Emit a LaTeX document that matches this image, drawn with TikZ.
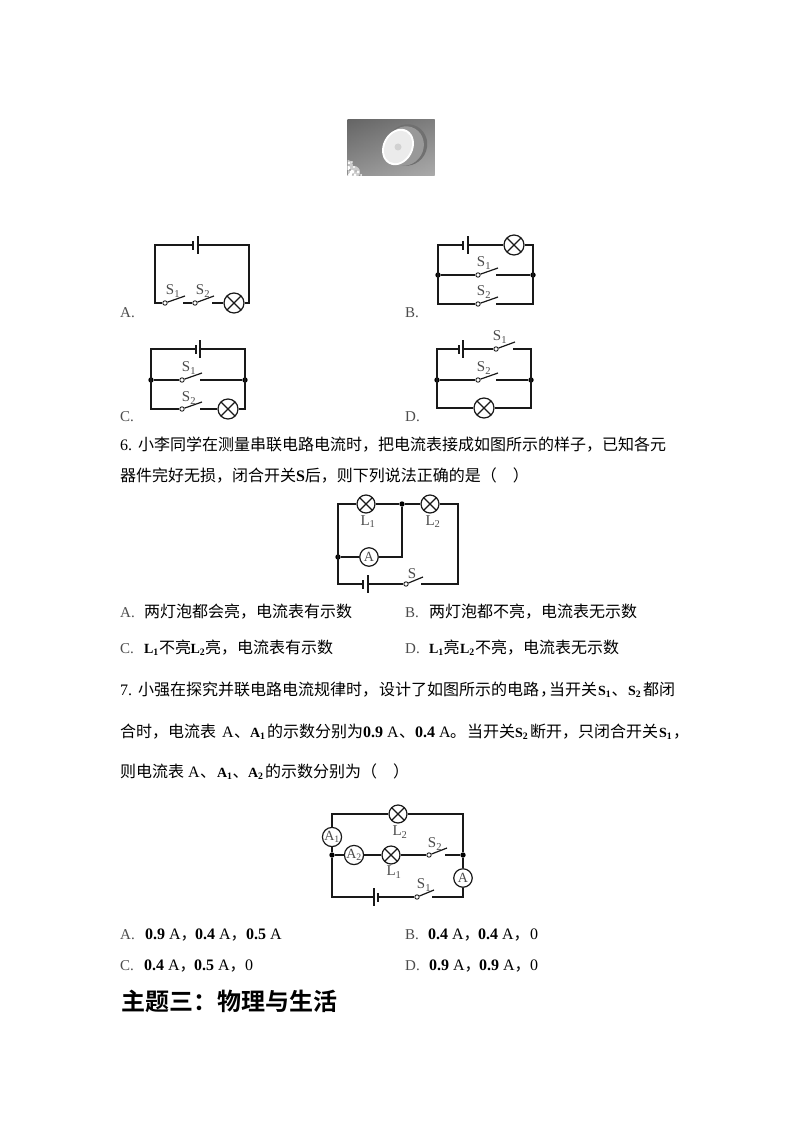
\documentclass[tikz,border=0pt]{standalone}
\usepackage{fontspec}
\setmainfont{Liberation Serif}
\newfontfamily\zhf[BoldFont=Noto Sans CJK SC Bold]{Noto Sans CJK SC}
\newcommand\zh[1]{{\zhf #1}}
\newcommand\bl[2]{{\fontsize{14pt}{16pt}\selectfont\textbf{#1\textsubscript{#2}}}}
\newcounter{tn}
\definecolor{wirec}{gray}{0.1}
\definecolor{labc}{gray}{0.3}
\tikzset{
  wire/.style={line width=1.2pt,draw=wirec,line join=miter},
  txt/.style={anchor=base west,inner sep=0pt,outer sep=0pt,font=\fontsize{16pt}{18pt}\selectfont,text=black},
  optl/.style={anchor=base west,inner sep=0pt,font=\fontsize{15pt}{16pt}\selectfont,text=labc},
  clab/.style={inner sep=0pt,font=\fontsize{15pt}{16pt}\selectfont,text=labc},
  lampn/.style={circle,draw=wirec,line width=1.2pt,minimum size=#1,inner sep=0pt,fill=white,
    path picture={\draw[line width=1.2pt,draw=wirec] (path picture bounding box.north west)--(path picture bounding box.south east)
      (path picture bounding box.north east)--(path picture bounding box.south west);}},
  metern/.style={circle,draw=wirec,line width=1.2pt,minimum size=18.5pt,inner sep=0pt,fill=white,font=\fontsize{14pt}{15pt}\selectfont,text=labc},
  dotn/.style={circle,fill=black,minimum size=5.4pt,inner sep=0pt},
  pivotn/.style={circle,draw=wirec,line width=0.9pt,minimum size=4.4pt,inner sep=0pt,fill=white},
  platen/.style={draw=none,fill=wirec,minimum width=1.3pt,inner sep=0pt,minimum height=#1}
}
\newcommand\tx[3]{\stepcounter{tn}\node[txt] (t\arabic{tn}) at (#1,#2) {#3};}
\newcommand\opt[3]{\stepcounter{tn}\node[optl] (t\arabic{tn}) at (#1,#2) {#3};}
\newcommand\lab[3]{\stepcounter{tn}\node[clab] (t\arabic{tn}) at (#1,#2) {#3};}
\newcommand\batt[4]{\node[platen=9pt] (#1-s) at (#2,#4) {};\node[platen=18pt] (#1-l) at (#3,#4) {};}
\newcommand\swt[4]{\node[pivotn] (#1-p) at (#2,#3) {};\coordinate (#1-a) at (#4,#3-7);\coordinate (#1-r) at (#4-2,#3);
  \draw[wire] (#1-p) -- (#1-a);}
\begin{document}
\begin{tikzpicture}[x=1pt,y=-1pt]
\useasboundingbox (0,0) rectangle (794,1123);
\fill[white] (0,0) rectangle (794,1123);

% photo
\begin{scope}
\clip (347.5,119.5) rectangle (434.5,176);
\shade[top color=black!66,bottom color=black!30] (347,119) rectangle (435,177);
\shade[left color=black!55,right color=black!35,opacity=.5] (347,119) rectangle (435,177);
\fill[black!56,rotate around={-30:(407,145)}] (407,145) ellipse (20 and 21);
\fill[black!40,rotate around={-30:(405,146)}] (405,146) ellipse (18.5 and 20);
\fill[white,rotate around={-28:(398,147)}] (398,147) ellipse (15 and 19);
\fill[black!8,rotate around={-28:(398,147)}] (398,147) ellipse (13 and 17);
\fill[black!18] (398,147) circle (3.5);
\fill[black!20] (348,165) circle (5) (354,172) circle (6);
\fill[white] (348,168) circle (2.2) (352,172) circle (2.2) (350,175) circle (2) (355,175) circle (1.6) (349,163) circle (1.3) (354,167) circle (1.2) (358,172) circle (1.3) (361,175) circle (1) (352,162) circle (.9);
\fill[black!50] (350,170) circle (.8) (353,174) circle (.7) (349,165) circle (.6) (356,171) circle (.7);
\end{scope}

% circuit A
\coordinate (a-tl) at (155,245); \coordinate (a-tr) at (249,245); \coordinate (a-bl) at (155,303); \coordinate (a-br) at (249,303);
\batt{a-bat}{193}{198}{245}
\swt{a-s1}{165}{303}{185}
\swt{a-s2}{195}{303}{214}
\node[lampn=20pt] (a-lamp) at (234,303) {};
\draw[wire] (a-bat-s) -- (a-tl) -- (a-bl) -- (a-s1-p);
\draw[wire] (a-s1-r) -- (a-s2-p);
\draw[wire] (a-s2-r) -- (a-lamp);
\draw[wire] (a-lamp) -- (a-br) -- (a-tr) -- (a-bat-l);
\lab{173}{291}{S\textsubscript{1}}
\lab{203}{291}{S\textsubscript{2}}
\opt{120}{317}{A.}

% circuit B
\coordinate (b-tl) at (438,245); \coordinate (b-tr) at (533,245); \coordinate (b-bl) at (438,304); \coordinate (b-br) at (533,304);
\node[dotn] (b-d1) at (438,275) {}; \node[dotn] (b-d2) at (533,275) {};
\batt{b-bat}{463}{468}{245}
\node[lampn=20pt] (b-lamp) at (514,245) {};
\swt{b-s1}{478}{275}{498}
\swt{b-s2}{478}{304}{498}
\draw[wire] (b-bat-s) -- (b-tl) -- (b-bl) -- (b-s2-p);
\draw[wire] (b-bat-l) -- (b-lamp);
\draw[wire] (b-lamp) -- (b-tr) -- (b-br) -- (b-s2-r);
\draw[wire] (b-d1) -- (b-s1-p);
\draw[wire] (b-s1-r) -- (b-d2);
\lab{484}{263}{S\textsubscript{1}}
\lab{484}{292}{S\textsubscript{2}}
\opt{405}{317}{B.}

% circuit C
\coordinate (c-tl) at (151,349); \coordinate (c-tr) at (245,349); \coordinate (c-bl) at (151,409); \coordinate (c-br) at (245,409);
\node[dotn] (c-d1) at (151,380) {}; \node[dotn] (c-d2) at (245,380) {};
\batt{c-bat}{196}{200}{349}
\swt{c-s1}{182}{380}{202}
\swt{c-s2}{182}{409}{202}
\node[lampn=20pt] (c-lamp) at (228,409) {};
\draw[wire] (c-bat-s) -- (c-tl) -- (c-bl) -- (c-s2-p);
\draw[wire] (c-bat-l) -- (c-tr) -- (c-br) -- (c-lamp);
\draw[wire] (c-s2-r) -- (c-lamp);
\draw[wire] (c-d1) -- (c-s1-p);
\draw[wire] (c-s1-r) -- (c-d2);
\lab{189}{368}{S\textsubscript{1}}
\lab{189}{398}{S\textsubscript{2}}
\opt{120}{421}{C.}

% circuit D
\coordinate (d-tl) at (437,349); \coordinate (d-tr) at (531,349); \coordinate (d-bl) at (437,408); \coordinate (d-br) at (531,408);
\node[dotn] (d-d1) at (437,380) {}; \node[dotn] (d-d2) at (531,380) {};
\batt{d-bat}{459}{463}{349}
\swt{d-s1}{496}{349}{515}
\swt{d-s2}{478}{380}{498}
\node[lampn=20pt] (d-lamp) at (484,408) {};
\draw[wire] (d-bat-s) -- (d-tl) -- (d-bl) -- (d-lamp);
\draw[wire] (d-bat-l) -- (d-s1-p);
\draw[wire] (d-s1-r) -- (d-tr) -- (d-br) -- (d-lamp);
\draw[wire] (d-d1) -- (d-s2-p);
\draw[wire] (d-s2-r) -- (d-d2);
\lab{500}{337}{S\textsubscript{1}}
\lab{484}{368}{S\textsubscript{2}}
\opt{405}{421}{D.}

% question 6
\tx{120}{450}{6.}
\tx{138}{450}{\zh{小李同学在测量串联电路电流时，把电流表接成如图所示的样子，已知各元}}
\tx{120}{481}{\zh{器件完好无损，闭合开关}\textbf{S}\zh{后，则下列说法正确的是（\hspace{1em}）}}

% circuit 6
\coordinate (e-tl) at (338,504); \coordinate (e-tr) at (458,504); \coordinate (e-bl) at (338,584); \coordinate (e-br) at (458,584);
\coordinate (e-mr) at (402,557);
\node[dotn] (e-d1) at (402,504) {}; \node[dotn] (e-d2) at (338,557) {};
\node[lampn=18pt] (e-l1) at (366,504) {}; \node[lampn=18pt] (e-l2) at (430,504) {};
\node[metern] (e-am) at (369,557) {A};
\batt{e-bat}{363}{368}{584}
\swt{e-s}{406}{584}{423}
\draw[wire] (e-l1) -- (e-tl) -- (e-bl) -- (e-bat-s);
\draw[wire] (e-l1) -- (e-d1) -- (e-l2);
\draw[wire] (e-l2) -- (e-tr) -- (e-br) -- (e-s-r);
\draw[wire] (e-d1) -- (e-mr) -- (e-am);
\draw[wire] (e-am) -- (e-d2);
\draw[wire] (e-bat-l) -- (e-s-p);
\lab{368}{522}{L\textsubscript{1}}
\lab{433}{522}{L\textsubscript{2}}
\lab{412}{574}{S}

% options 6
\opt{120}{617}{A.}\tx{144}{617}{\zh{两灯泡都会亮，电流表有示数}}
\opt{405}{617}{B.}\tx{429}{617}{\zh{两灯泡都不亮，电流表无示数}}
\opt{120}{653}{C.}\tx{144}{653}{\bl{L}{1}}\tx{159}{653}{\zh{不亮}}\tx{190.5}{653}{\bl{L}{2}}\tx{205}{653}{\zh{亮，电流表有示数}}
\opt{405}{653}{D.}\tx{429}{653}{\bl{L}{1}}\tx{443.5}{653}{\zh{亮}}\tx{460}{653}{\bl{L}{2}}\tx{475}{653}{\zh{不亮，电流表无示数}}

% question 7
\tx{120}{695}{7.}
\tx{138}{695}{\zh{小强在探究并联电路电流规律时，}}
\tx{379}{695}{\zh{设计了如图所示的电路}}\tx{540}{695}{\zh{，}}
\tx{549}{695}{\zh{当开关}}
\tx{598}{695}{\bl{S}{1}}\tx{611.5}{695}{\zh{、}}\tx{628}{695}{\bl{S}{2}}\tx{643}{695}{\zh{都闭}}
\tx{120}{737}{\zh{合时，电流表}}\tx{222}{737}{A}\tx{234}{737}{\zh{、}}\tx{250}{737}{\bl{A}{1}}\tx{267}{737}{\zh{的示数分别为}}
\tx{363}{737}{\textbf{0.9} A}\tx{399}{737}{\zh{、}}\tx{415}{737}{\textbf{0.4} A}\tx{450}{737}{\zh{。}}\tx{467}{737}{\zh{当开关}}
\tx{515}{737}{\bl{S}{2}}\tx{530}{737}{\zh{断开，只闭合开关}}\tx{659}{737}{\bl{S}{1}}\tx{673}{737}{\zh{，}}
\tx{120}{777}{\zh{则电流表}}\tx{188}{777}{A}\tx{200}{777}{\zh{、}}\tx{217}{777}{\bl{A}{1}}\tx{232.5}{777}{\zh{、}}\tx{248}{777}{\bl{A}{2}}
\tx{265}{777}{\zh{的示数分别为（\hspace{1em}）}}

% circuit 7
\coordinate (f-tl) at (332,814); \coordinate (f-tr) at (463,814); \coordinate (f-bl) at (332,897); \coordinate (f-br) at (463,897);
\node[dotn] (f-d1) at (332,855) {}; \node[dotn] (f-d2) at (463,855) {};
\node[lampn=18pt] (f-l2) at (398,814) {}; \node[lampn=18pt] (f-l1) at (391,855) {};
\node[metern] (f-a1) at (332,837) {A\textsubscript{1}};
\node[metern] (f-a2) at (354,855) {A\textsubscript{2}};
\node[metern] (f-a) at (463,878) {A};
\batt{f-bat}{378}{374}{897}
\swt{f-s2}{429}{855}{447}
\swt{f-s1}{417}{897}{434}
\draw[wire] (f-a1) -- (f-tl) -- (f-l2);
\draw[wire] (f-l2) -- (f-tr) -- (f-d2) -- (f-a);
\draw[wire] (f-a1) -- (f-d1) -- (f-a2);
\draw[wire] (f-a2) -- (f-l1);
\draw[wire] (f-l1) -- (f-s2-p);
\draw[wire] (f-s2-r) -- (f-d2);
\draw[wire] (f-d1) -- (f-bl) -- (f-bat-l);
\draw[wire] (f-bat-s) -- (f-s1-p);
\draw[wire] (f-s1-r) -- (f-br) -- (f-a);
\lab{400}{832}{L\textsubscript{2}}
\lab{435}{844}{S\textsubscript{2}}
\lab{394}{872}{L\textsubscript{1}}
\lab{424}{885}{S\textsubscript{1}}

% options 7
\opt{120}{939}{A.}\tx{145}{939}{\textbf{0.9} A\zh{，}}\tx{195}{939}{\textbf{0.4} A\zh{，}}\tx{246}{939}{\textbf{0.5} A}
\opt{405}{939}{B.}\tx{428}{939}{\textbf{0.4} A\zh{，}}\tx{478}{939}{\textbf{0.4} A\zh{，}}\tx{530}{939}{0}
\opt{120}{970}{C.}\tx{144}{970}{\textbf{0.4} A\zh{，}}\tx{194}{970}{\textbf{0.5} A\zh{，}}\tx{245}{970}{0}
\opt{405}{970}{D.}\tx{429}{970}{\textbf{0.9} A\zh{，}}\tx{479}{970}{\textbf{0.9} A\zh{，}}\tx{530}{970}{0}

% heading
\stepcounter{tn}\node[txt,font=\fontsize{24pt}{26pt}\selectfont\bfseries] (t\arabic{tn}) at (121,1010) {\zh{主题三：物理与生活}};
\end{tikzpicture}
\end{document}
